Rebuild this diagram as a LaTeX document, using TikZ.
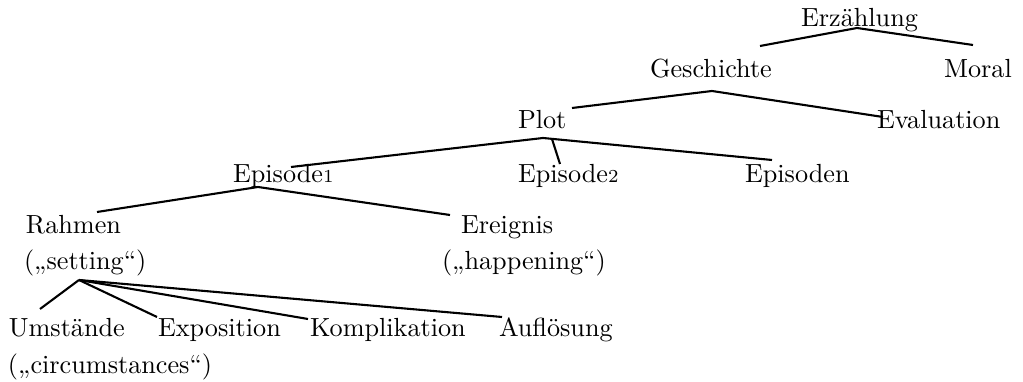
\documentclass[tikz,border=0pt]{standalone}
\usepackage{fontspec}
\begin{document}
\begin{tikzpicture}[x=0.3817pt,y=-0.3817pt,
  lab/.style={anchor=base west,inner sep=0pt,outer sep=0pt,font=\fontsize{10pt}{12pt}\selectfont},
  br/.style={line width=0.8pt}]
\useasboundingbox (0,0) rectangle (1023,382);
% nodes
\node[lab] (erz)   at (801,27)  {Erzählung};
\node[lab] (gesch) at (650,78)  {Geschichte};
\node[lab] (moral) at (944,78)  {Moral};
\node[lab] (plot)  at (518,129) {Plot};
\node[lab] (eval)  at (877,129) {Evaluation};
\node[lab] (ep1)   at (233,183) {Episode{\fontsize{7pt}{8pt}\selectfont 1}};
\node[lab] (ep2)   at (518,183) {Episode{\fontsize{7pt}{8pt}\selectfont 2}};
\node[lab] (epn)   at (745,183) {Episoden};
\node[lab] (rahm)  at (26,234)  {Rahmen};
\node[lab] (sett)  at (24,270)  {(„setting“)};
\node[lab] (ereig) at (461,234) {Ereignis};
\node[lab] (happ)  at (442,270) {(„happening“)};
\node[lab] (umst)  at (9,337)   {Umstände};
\node[lab] (circ)  at (8,374)   {(„circumstances“)};
\node[lab] (expo)  at (158,337) {Exposition};
\node[lab] (kompl) at (310,337) {Komplikation};
\node[lab] (aufl)  at (499,337) {Auflösung};
% edge end points
\coordinate (erzB)   at (857,28);
\coordinate (geschT) at (760,46);
\coordinate (moralT) at (973,45);
\coordinate (geschB) at (712,91);
\coordinate (plotT)  at (572,108);
\coordinate (evalT)  at (883,117);
\coordinate (plotB)  at (543,138);
\coordinate (plotB2) at (552,139);
\coordinate (ep1T)   at (291,167);
\coordinate (ep2T)   at (560,164);
\coordinate (epnT)   at (772,160);
\coordinate (ep1B)   at (258,187);
\coordinate (rahmT)  at (97,212);
\coordinate (ereigT) at (450,215);
\coordinate (settB)  at (79,280);
\coordinate (umstT)  at (40,309);
\coordinate (expoT)  at (157,317);
\coordinate (komplT) at (308,319);
\coordinate (auflT)  at (502,317);
% edges
\draw[br] (geschT) -- (erzB) -- (moralT);
\draw[br] (plotT) -- (geschB) -- (evalT);
\draw[br] (ep1T) -- (plotB) -- (epnT);
\draw[br] (plotB2) -- (ep2T);
\draw[br] (rahmT) -- (ep1B) -- (ereigT);
\draw[br] (settB) -- (umstT);
\draw[br] (settB) -- (expoT);
\draw[br] (settB) -- (komplT);
\draw[br] (settB) -- (auflT);
\end{tikzpicture}
\end{document}
